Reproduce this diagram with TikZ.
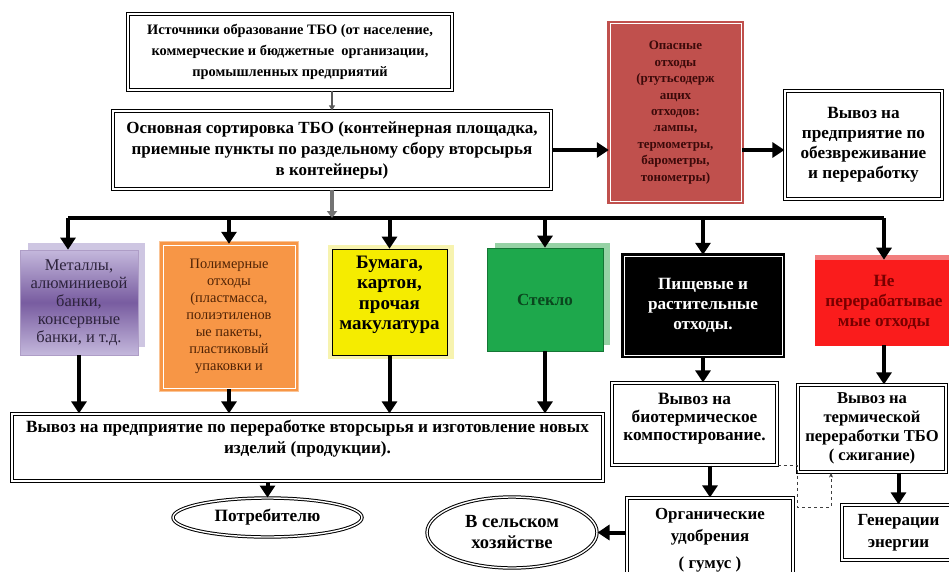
\documentclass[tikz,border=0pt]{standalone}
\usepackage{fontspec}
\setmainfont{Liberation Serif}
\usepackage{tikz}
\usetikzlibrary{shapes.geometric, arrows.meta}
\definecolor{hazred}{RGB}{192,80,77}
\definecolor{haztext}{RGB}{60,10,10}
\definecolor{metlight}{RGB}{196,184,220}
\definecolor{metdark}{RGB}{120,92,160}
\definecolor{metshadow}{RGB}{206,198,226}
\definecolor{mettext}{RGB}{45,35,60}
\definecolor{polyor}{RGB}{247,150,70}
\definecolor{polyglow}{RGB}{250,196,150}
\definecolor{polytext}{RGB}{80,35,5}
\definecolor{papery}{RGB}{245,236,0}
\definecolor{paperglow}{RGB}{247,243,175}
\definecolor{glassg}{RGB}{30,168,76}
\definecolor{glassshadow}{RGB}{150,210,165}
\definecolor{glasstext}{RGB}{10,70,30}
\definecolor{nonred}{RGB}{250,28,28}
\definecolor{nonshadow}{RGB}{242,125,125}
\definecolor{nontext}{RGB}{120,0,0}
\tikzstyle{arrow} = [-{Triangle[width=15pt,length=12pt]}, line width=4pt]
\tikzstyle{dbox} = [draw, double, double distance=1.6pt, line width=1.2pt, fill=white, align=center, inner sep=0pt]
\tikzstyle{inset} = [double=white, double distance=1pt, line width=2.4pt, align=center, inner sep=0pt]
\tikzstyle{flat} = [draw, line width=0.6pt, align=center, inner sep=0pt]
\tikzstyle{oval} = [ellipse, draw, double, double distance=1.4pt, line width=1pt, align=center, inner sep=0pt]
\newcommand{\fs}[2]{\fontsize{#1}{#2}\selectfont}

\begin{document}
\begin{tikzpicture}[x=1pt, y=-1pt]
    \useasboundingbox (0,0) rectangle (949,572);
    \clip (0,0) rectangle (949,572);
    % top part
    \node[dbox, minimum width=324pt, minimum height=76pt, font=\bfseries\fs{14.4}{21}] (src) at (290,52)
        {Источники образование ТБО (от население,\\ коммерческие и бюджетные\ \ организации,\\ промышленных предприятий};
    \node[dbox, minimum width=438pt, minimum height=78pt, font=\bfseries\fs{17}{21}] (sort) at (332,150)
        {Основная сортировка ТБО (контейнерная площадка,\\ приемные пункты по раздельному сбору вторсырья\\ в контейнеры)};
    \node[inset, draw=hazred, fill=hazred, minimum width=131pt, minimum height=177pt, text=haztext, font=\bfseries\fs{13}{16.4}] (haz) at (675.5,112.5)
        {Опасные\\ отходы\\ (ртутьсодерж\\ ащих\\ отходов:\\ лампы,\\ термометры,\\ барометры,\\ тонометры)};
    \node[dbox, minimum width=157pt, minimum height=108pt, font=\bfseries\fs{17.2}{20}] (neutr) at (863.5,145)
        {Вывоз на\\ предприятие по\\ обезвреживание\\ и переработку};
    % kinds of waste
    \fill[metshadow] (28,243) rectangle (145,347);
    \node[flat, draw=metdark!60, top color=metlight, bottom color=metlight, middle color=metdark, minimum width=118pt, minimum height=105pt, text=mettext, font=\fs{16.5}{18}] (metal) at (79,302.5)
        {Металлы,\\ алюминиевой\\ банки,\\ консервные\\ банки, и т.д.};
    \fill[polyglow] (159,241) rectangle (299,392);
    \node[inset, draw=polyor, fill=polyor, minimum width=132pt, minimum height=143pt, text=polytext, font=\fs{14.4}{17}] (polym) at (229,316.5)
        {Полимерные\\ отходы\\ (пластмасса,\\ полиэтиленов\\ ые пакеты,\\ пластиковый\\ упаковки и};
    \fill[paperglow] (328,245) rectangle (454,359);
    \node[flat, fill=papery, minimum width=115pt, minimum height=106pt, text depth=18pt, font=\bfseries\fs{19}{20.5}] (paper) at (389.5,302)
        {Бумага,\\ картон,\\ прочая\\ макулатура};
    \fill[glassshadow] (495,243) rectangle (610,345);
    \node[flat, draw=glassg!70!black, fill=glassg, minimum width=116pt, minimum height=103pt, text=glasstext, font=\bfseries\fs{17}{20}] (glass) at (545,299.5)
        {Стекло};
    \node[inset, draw=black, fill=black, minimum width=158pt, minimum height=99pt, text=white, font=\bfseries\fs{17.2}{20}] (food) at (703,305.5)
        {Пищевые и\\ растительные\\ отходы.};
    \fill[nonshadow] (815,255) rectangle (949,335);
    \node[flat, draw=nonred, fill=nonred, minimum width=138pt, minimum height=85pt, text=nontext, font=\bfseries\fs{17.2}{20}] (nonrec) at (884,302.5)
        {Не\\ перерабатывае\\ мые отходы};
    % lower part
    \node[dbox, minimum width=591pt, minimum height=67pt, font=\bfseries\fs{17.2}{21}] (recyc) at (307.5,447.5)
        {Вывоз на предприятие по переработке вторсырья и изготовление новых\\ изделий (продукции).\\ \mbox{}};
    \node[oval, minimum width=189pt, minimum height=39pt, font=\bfseries\fs{17.3}{20}] (consum) at (267.5,517.5) {Потребителю};
    \node[oval, minimum width=170pt, minimum height=71pt, font=\bfseries\fs{18.5}{21}] (agri) at (512,532.5) {В сельском\\ хозяйстве};
    \node[dbox, minimum width=165pt, minimum height=82pt, text depth=14pt, font=\bfseries\fs{17.3}{18}] (biot) at (694.5,424)
        {Вывоз на\\ биотермическое\\ компостирование.};
    \node[dbox, minimum width=166pt, minimum height=84pt, font=\bfseries\fs{16.9}{22}] (organ) at (710,540)
        {Органические\\ удобрения\\[5pt] ( гумус )};
    \node[dbox, minimum width=148pt, minimum height=87pt, font=\bfseries\fs{16.6}{19}] (therm) at (872,428.5)
        {Вывоз на\\ термической\\ переработки ТБО\\ ( сжигание)};
    \node[dbox, minimum width=113pt, minimum height=55pt, font=\bfseries\fs{17}{22}] (energy) at (898.5,532.5)
        {Генерации\\ энергии};
    % connectors
    \draw[-{Triangle[width=6pt,length=5pt]}, line width=2pt, black!65] (sort.north |- src.south) -- (sort.north);
    \coordinate (busL) at (68,218);
    \draw[arrow] (sort.east) -- (sort.east -| haz.west);
    \draw[arrow] (haz.east |- sort.east) -- (neutr.west |- sort.east);
    \draw[line width=4pt] (busL) -- (nonrec.north |- busL);
    \draw[-{Triangle[width=10pt,length=7pt]}, line width=4pt, black!55] (sort.south) -- (sort.south |- busL);
    \draw[arrow] (busL) -- (busL |- metal.north);
    \foreach \k in {polym, paper, glass, food, nonrec}
        \draw[arrow] (\k.north |- busL) -- (\k.north);
    \foreach \k in {metal, polym, paper, glass}
        \draw[arrow] (\k.south) -- (\k.south |- recyc.north);
    \draw[arrow] (consum.north |- recyc.south) -- (consum.north);
    \draw[arrow] (food.south) -- (food.south |- biot.north);
    \draw[arrow] (organ.north |- biot.south) -- (organ.north);
    \draw[arrow] (organ.west |- agri.east) -- (agri.east);
    \draw[arrow] (nonrec.south) -- (nonrec.south |- therm.north);
    \draw[arrow] (energy.north |- therm.south) -- (energy.north);
    % dashed return
    \coordinate (dret) at (831,507);
    \draw[dashed, line width=0.8pt, black!75, -{Stealth[length=5pt,width=4pt]}]
        (biot.south east) -- (therm.west |- biot.south east) -- (therm.west |- dret) -- (dret) -- (dret |- therm.south);
\end{tikzpicture}
\end{document}
